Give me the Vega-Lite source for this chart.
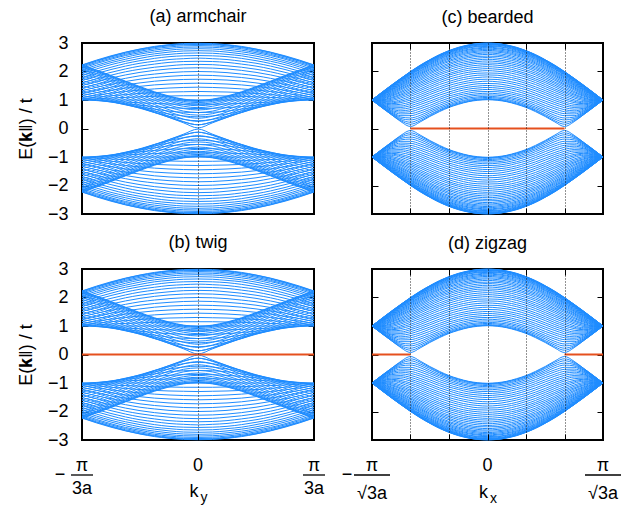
{
"$schema":"https://vega.github.io/schema/vega-lite/v6.json",
"background":"white",
"padding":{"left":16,"top":7,"right":5,"bottom":5},
"bounds":"flush",
"spacing":{"row":55,"column":58},
"columns":2,
"config":{
 "font":"Liberation Sans",
 "view":{"stroke":"black","strokeWidth":2},
 "axis":{"labelFont":"Liberation Sans","titleFont":"Liberation Sans","labelFontSize":18,"titleFontSize":18,"titleFontWeight":"normal","labelColor":"black","titleColor":"black","tickColor":"black","tickWidth":1,"domain":false,"grid":false,"gridColor":"black","gridDash":[1,2],"gridOpacity":0.85,"gridWidth":1,"labelFlush":false,"labelOverlap":false},
 "title":{"font":"Liberation Sans","fontSize":18,"fontWeight":"normal","color":"black","offset":10},
 "text":{"font":"Liberation Sans","fontSize":18,"color":"black"},
 "line":{"interpolate":"monotone","color":"#1e8cff","strokeWidth":1}
},
"datasets":{
"arm":[
{"x":-1,"p1":2.22,"p2":2.16,"p3":2.06,"p4":1.93,"p5":1.77,"p6":1.6,"p7":1.41,"p8":1.24,"p9":1.09,"p10":1.01,"p11":1.01,"p12":1.09,"p13":1.24,"p14":1.41,"p15":1.6,"p16":1.77,"p17":1.93,"p18":2.06,"p19":2.16,"p20":2.22,"q1":2.23,"q2":2.19,"q3":2.11,"q4":2,"q5":1.86,"q6":1.69,"q7":1.51,"q8":1.32,"q9":1.16,"q10":1.04,"q11":1,"q12":1.04,"q13":1.16,"q14":1.32,"q15":1.51,"q16":1.69,"q17":1.86,"q18":2,"q19":2.11,"q20":2.19,"q21":2.23,"n1":-2.22,"n2":-2.16,"n3":-2.06,"n4":-1.93,"n5":-1.77,"n6":-1.6,"n7":-1.41,"n8":-1.24,"n9":-1.09,"n10":-1.01,"n11":-1.01,"n12":-1.09,"n13":-1.24,"n14":-1.41,"n15":-1.6,"n16":-1.77,"n17":-1.93,"n18":-2.06,"n19":-2.16,"n20":-2.22,"r1":-2.23,"r2":-2.19,"r3":-2.11,"r4":-2,"r5":-1.86,"r6":-1.69,"r7":-1.51,"r8":-1.32,"r9":-1.16,"r10":-1.04,"r11":-1,"r12":-1.04,"r13":-1.16,"r14":-1.32,"r15":-1.51,"r16":-1.69,"r17":-1.86,"r18":-2,"r19":-2.11,"r20":-2.19,"r21":-2.23},
{"x":-0.875,"p1":2.38,"p2":2.32,"p3":2.22,"p4":2.09,"p5":1.93,"p6":1.74,"p7":1.55,"p8":1.35,"p9":1.17,"p10":1.04,"p11":0.98,"p12":1.01,"p13":1.12,"p14":1.27,"p15":1.44,"p16":1.61,"p17":1.76,"p18":1.88,"p19":1.98,"p20":2.03,"q1":2.4,"q2":2.36,"q3":2.28,"q4":2.16,"q5":2.01,"q6":1.84,"q7":1.65,"q8":1.45,"q9":1.26,"q10":1.1,"q11":1,"q12":0.99,"q13":1.06,"q14":1.19,"q15":1.35,"q16":1.52,"q17":1.68,"q18":1.82,"q19":1.93,"q20":2.01,"q21":2.05,"n1":-2.38,"n2":-2.32,"n3":-2.22,"n4":-2.09,"n5":-1.93,"n6":-1.74,"n7":-1.55,"n8":-1.35,"n9":-1.17,"n10":-1.04,"n11":-0.98,"n12":-1.01,"n13":-1.12,"n14":-1.27,"n15":-1.44,"n16":-1.61,"n17":-1.76,"n18":-1.88,"n19":-1.98,"n20":-2.03,"r1":-2.4,"r2":-2.36,"r3":-2.28,"r4":-2.16,"r5":-2.01,"r6":-1.84,"r7":-1.65,"r8":-1.45,"r9":-1.26,"r10":-1.1,"r11":-1,"r12":-0.99,"r13":-1.06,"r14":-1.19,"r15":-1.35,"r16":-1.52,"r17":-1.68,"r18":-1.82,"r19":-1.93,"r20":-2.01,"r21":-2.05},
{"x":-0.75,"p1":2.53,"p2":2.47,"p3":2.37,"p4":2.24,"p5":2.07,"p6":1.87,"p7":1.66,"p8":1.45,"p9":1.24,"p10":1.07,"p11":0.95,"p12":0.93,"p13":0.99,"p14":1.11,"p15":1.27,"p16":1.42,"p17":1.57,"p18":1.69,"p19":1.79,"p20":1.84,"q1":2.55,"q2":2.51,"q3":2.43,"q4":2.31,"q5":2.15,"q6":1.97,"q7":1.77,"q8":1.55,"q9":1.34,"q10":1.15,"q11":1,"q12":0.93,"q13":0.95,"q14":1.04,"q15":1.19,"q16":1.35,"q17":1.5,"q18":1.64,"q19":1.74,"q20":1.82,"q21":1.86,"n1":-2.53,"n2":-2.47,"n3":-2.37,"n4":-2.24,"n5":-2.07,"n6":-1.87,"n7":-1.66,"n8":-1.45,"n9":-1.24,"n10":-1.07,"n11":-0.95,"n12":-0.93,"n13":-0.99,"n14":-1.11,"n15":-1.27,"n16":-1.42,"n17":-1.57,"n18":-1.69,"n19":-1.79,"n20":-1.84,"r1":-2.55,"r2":-2.51,"r3":-2.43,"r4":-2.31,"r5":-2.15,"r6":-1.97,"r7":-1.77,"r8":-1.55,"r9":-1.34,"r10":-1.15,"r11":-1,"r12":-0.93,"r13":-0.95,"r14":-1.04,"r15":-1.19,"r16":-1.35,"r17":-1.5,"r18":-1.64,"r19":-1.74,"r20":-1.82,"r21":-1.86},
{"x":-0.625,"p1":2.67,"p2":2.6,"p3":2.5,"p4":2.36,"p5":2.19,"p6":1.99,"p7":1.76,"p8":1.53,"p9":1.3,"p10":1.09,"p11":0.93,"p12":0.84,"p13":0.85,"p14":0.94,"p15":1.08,"p16":1.23,"p17":1.38,"p18":1.5,"p19":1.59,"p20":1.65,"q1":2.68,"q2":2.64,"q3":2.56,"q4":2.43,"q5":2.28,"q6":2.09,"q7":1.88,"q8":1.65,"q9":1.42,"q10":1.19,"q11":1,"q12":0.87,"q13":0.83,"q14":0.89,"q15":1.01,"q16":1.16,"q17":1.31,"q18":1.44,"q19":1.55,"q20":1.62,"q21":1.66,"n1":-2.67,"n2":-2.6,"n3":-2.5,"n4":-2.36,"n5":-2.19,"n6":-1.99,"n7":-1.76,"n8":-1.53,"n9":-1.3,"n10":-1.09,"n11":-0.93,"n12":-0.84,"n13":-0.85,"n14":-0.94,"n15":-1.08,"n16":-1.23,"n17":-1.38,"n18":-1.5,"n19":-1.59,"n20":-1.65,"r1":-2.68,"r2":-2.64,"r3":-2.56,"r4":-2.43,"r5":-2.28,"r6":-2.09,"r7":-1.88,"r8":-1.65,"r9":-1.42,"r10":-1.19,"r11":-1,"r12":-0.87,"r13":-0.83,"r14":-0.89,"r15":-1.01,"r16":-1.16,"r17":-1.31,"r18":-1.44,"r19":-1.55,"r20":-1.62,"r21":-1.66},
{"x":-0.5,"p1":2.78,"p2":2.71,"p3":2.61,"p4":2.46,"p5":2.29,"p6":2.08,"p7":1.85,"p8":1.6,"p9":1.35,"p10":1.11,"p11":0.9,"p12":0.75,"p13":0.71,"p14":0.77,"p15":0.89,"p16":1.04,"p17":1.18,"p18":1.3,"p19":1.4,"p20":1.45,"q1":2.79,"q2":2.75,"q3":2.66,"q4":2.54,"q5":2.38,"q6":2.19,"q7":1.97,"q8":1.73,"q9":1.48,"q10":1.23,"q11":1,"q12":0.82,"q13":0.72,"q14":0.73,"q15":0.82,"q16":0.96,"q17":1.11,"q18":1.25,"q19":1.35,"q20":1.43,"q21":1.47,"n1":-2.78,"n2":-2.71,"n3":-2.61,"n4":-2.46,"n5":-2.29,"n6":-2.08,"n7":-1.85,"n8":-1.6,"n9":-1.35,"n10":-1.11,"n11":-0.9,"n12":-0.75,"n13":-0.71,"n14":-0.77,"n15":-0.89,"n16":-1.04,"n17":-1.18,"n18":-1.3,"n19":-1.4,"n20":-1.45,"r1":-2.79,"r2":-2.75,"r3":-2.66,"r4":-2.54,"r5":-2.38,"r6":-2.19,"r7":-1.97,"r8":-1.73,"r9":-1.48,"r10":-1.23,"r11":-1,"r12":-0.82,"r13":-0.72,"r14":-0.73,"r15":-0.82,"r16":-0.96,"r17":-1.11,"r18":-1.25,"r19":-1.35,"r20":-1.43,"r21":-1.47},
{"x":-0.375,"p1":2.86,"p2":2.8,"p3":2.69,"p4":2.55,"p5":2.36,"p6":2.15,"p7":1.91,"p8":1.66,"p9":1.39,"p10":1.13,"p11":0.88,"p12":0.68,"p13":0.56,"p14":0.58,"p15":0.69,"p16":0.84,"p17":0.99,"p18":1.12,"p19":1.21,"p20":1.27,"q1":2.88,"q2":2.84,"q3":2.75,"q4":2.62,"q5":2.46,"q6":2.26,"q7":2.04,"q8":1.79,"q9":1.53,"q10":1.26,"q11":1,"q12":0.77,"q13":0.61,"q14":0.56,"q15":0.63,"q16":0.77,"q17":0.92,"q18":1.06,"q19":1.17,"q20":1.25,"q21":1.29,"n1":-2.86,"n2":-2.8,"n3":-2.69,"n4":-2.55,"n5":-2.36,"n6":-2.15,"n7":-1.91,"n8":-1.66,"n9":-1.39,"n10":-1.13,"n11":-0.88,"n12":-0.68,"n13":-0.56,"n14":-0.58,"n15":-0.69,"n16":-0.84,"n17":-0.99,"n18":-1.12,"n19":-1.21,"n20":-1.27,"r1":-2.88,"r2":-2.84,"r3":-2.75,"r4":-2.62,"r5":-2.46,"r6":-2.26,"r7":-2.04,"r8":-1.79,"r9":-1.53,"r10":-1.26,"r11":-1,"r12":-0.77,"r13":-0.61,"r14":-0.56,"r15":-0.63,"r16":-0.77,"r17":-0.92,"r18":-1.06,"r19":-1.17,"r20":-1.25,"r21":-1.29},
{"x":-0.25,"p1":2.93,"p2":2.86,"p3":2.75,"p4":2.6,"p5":2.42,"p6":2.2,"p7":1.96,"p8":1.7,"p9":1.42,"p10":1.14,"p11":0.86,"p12":0.61,"p13":0.43,"p14":0.39,"p15":0.5,"p16":0.66,"p17":0.82,"p18":0.96,"p19":1.06,"p20":1.12,"q1":2.94,"q2":2.9,"q3":2.81,"q4":2.68,"q5":2.52,"q6":2.32,"q7":2.09,"q8":1.83,"q9":1.56,"q10":1.28,"q11":1,"q12":0.73,"q13":0.51,"q14":0.39,"q15":0.43,"q16":0.58,"q17":0.75,"q18":0.89,"q19":1.01,"q20":1.1,"q21":1.14,"n1":-2.93,"n2":-2.86,"n3":-2.75,"n4":-2.6,"n5":-2.42,"n6":-2.2,"n7":-1.96,"n8":-1.7,"n9":-1.42,"n10":-1.14,"n11":-0.86,"n12":-0.61,"n13":-0.43,"n14":-0.39,"n15":-0.5,"n16":-0.66,"n17":-0.82,"n18":-0.96,"n19":-1.06,"n20":-1.12,"r1":-2.94,"r2":-2.9,"r3":-2.81,"r4":-2.68,"r5":-2.52,"r6":-2.32,"r7":-2.09,"r8":-1.83,"r9":-1.56,"r10":-1.28,"r11":-1,"r12":-0.73,"r13":-0.51,"r14":-0.39,"r15":-0.43,"r16":-0.58,"r17":-0.75,"r18":-0.89,"r19":-1.01,"r20":-1.1,"r21":-1.14},
{"x":-0.125,"p1":2.96,"p2":2.9,"p3":2.79,"p4":2.64,"p5":2.45,"p6":2.24,"p7":1.99,"p8":1.72,"p9":1.44,"p10":1.15,"p11":0.85,"p12":0.57,"p13":0.32,"p14":0.2,"p15":0.33,"p16":0.52,"p17":0.7,"p18":0.84,"p19":0.95,"p20":1.02,"q1":2.98,"q2":2.94,"q3":2.85,"q4":2.72,"q5":2.55,"q6":2.35,"q7":2.12,"q8":1.86,"q9":1.58,"q10":1.29,"q11":1,"q12":0.71,"q13":0.44,"q14":0.23,"q15":0.24,"q16":0.43,"q17":0.61,"q18":0.78,"q19":0.9,"q20":0.99,"q21":1.03,"n1":-2.96,"n2":-2.9,"n3":-2.79,"n4":-2.64,"n5":-2.45,"n6":-2.24,"n7":-1.99,"n8":-1.72,"n9":-1.44,"n10":-1.15,"n11":-0.85,"n12":-0.57,"n13":-0.32,"n14":-0.2,"n15":-0.33,"n16":-0.52,"n17":-0.7,"n18":-0.84,"n19":-0.95,"n20":-1.02,"r1":-2.98,"r2":-2.94,"r3":-2.85,"r4":-2.72,"r5":-2.55,"r6":-2.35,"r7":-2.12,"r8":-1.86,"r9":-1.58,"r10":-1.29,"r11":-1,"r12":-0.71,"r13":-0.44,"r14":-0.23,"r15":-0.24,"r16":-0.43,"r17":-0.61,"r18":-0.78,"r19":-0.9,"r20":-0.99,"r21":-1.03},
{"x":0,"p1":2.98,"p2":2.91,"p3":2.8,"p4":2.65,"p5":2.47,"p6":2.25,"p7":2,"p8":1.73,"p9":1.45,"p10":1.15,"p11":0.85,"p12":0.56,"p13":0.27,"p14":0.02,"p15":0.25,"p16":0.47,"p17":0.65,"p18":0.8,"p19":0.91,"p20":0.98,"q1":2.99,"q2":2.95,"q3":2.86,"q4":2.73,"q5":2.56,"q6":2.36,"q7":2.13,"q8":1.87,"q9":1.59,"q10":1.3,"q11":1,"q12":0.7,"q13":0.41,"q14":0.13,"q15":0.13,"q16":0.36,"q17":0.56,"q18":0.73,"q19":0.86,"q20":0.95,"q21":0.99,"n1":-2.98,"n2":-2.91,"n3":-2.8,"n4":-2.65,"n5":-2.47,"n6":-2.25,"n7":-2,"n8":-1.73,"n9":-1.45,"n10":-1.15,"n11":-0.85,"n12":-0.56,"n13":-0.27,"n14":-0.02,"n15":-0.25,"n16":-0.47,"n17":-0.65,"n18":-0.8,"n19":-0.91,"n20":-0.98,"r1":-2.99,"r2":-2.95,"r3":-2.86,"r4":-2.73,"r5":-2.56,"r6":-2.36,"r7":-2.13,"r8":-1.87,"r9":-1.59,"r10":-1.3,"r11":-1,"r12":-0.7,"r13":-0.41,"r14":-0.13,"r15":-0.13,"r16":-0.36,"r17":-0.56,"r18":-0.73,"r19":-0.86,"r20":-0.95,"r21":-0.99},
{"x":0.125,"p1":2.96,"p2":2.9,"p3":2.79,"p4":2.64,"p5":2.45,"p6":2.24,"p7":1.99,"p8":1.72,"p9":1.44,"p10":1.15,"p11":0.85,"p12":0.57,"p13":0.32,"p14":0.2,"p15":0.33,"p16":0.52,"p17":0.7,"p18":0.84,"p19":0.95,"p20":1.02,"q1":2.98,"q2":2.94,"q3":2.85,"q4":2.72,"q5":2.55,"q6":2.35,"q7":2.12,"q8":1.86,"q9":1.58,"q10":1.29,"q11":1,"q12":0.71,"q13":0.44,"q14":0.23,"q15":0.24,"q16":0.43,"q17":0.61,"q18":0.78,"q19":0.9,"q20":0.99,"q21":1.03,"n1":-2.96,"n2":-2.9,"n3":-2.79,"n4":-2.64,"n5":-2.45,"n6":-2.24,"n7":-1.99,"n8":-1.72,"n9":-1.44,"n10":-1.15,"n11":-0.85,"n12":-0.57,"n13":-0.32,"n14":-0.2,"n15":-0.33,"n16":-0.52,"n17":-0.7,"n18":-0.84,"n19":-0.95,"n20":-1.02,"r1":-2.98,"r2":-2.94,"r3":-2.85,"r4":-2.72,"r5":-2.55,"r6":-2.35,"r7":-2.12,"r8":-1.86,"r9":-1.58,"r10":-1.29,"r11":-1,"r12":-0.71,"r13":-0.44,"r14":-0.23,"r15":-0.24,"r16":-0.43,"r17":-0.61,"r18":-0.78,"r19":-0.9,"r20":-0.99,"r21":-1.03},
{"x":0.25,"p1":2.93,"p2":2.86,"p3":2.75,"p4":2.6,"p5":2.42,"p6":2.2,"p7":1.96,"p8":1.7,"p9":1.42,"p10":1.14,"p11":0.86,"p12":0.61,"p13":0.43,"p14":0.39,"p15":0.5,"p16":0.66,"p17":0.82,"p18":0.96,"p19":1.06,"p20":1.12,"q1":2.94,"q2":2.9,"q3":2.81,"q4":2.68,"q5":2.52,"q6":2.32,"q7":2.09,"q8":1.83,"q9":1.56,"q10":1.28,"q11":1,"q12":0.73,"q13":0.51,"q14":0.39,"q15":0.43,"q16":0.58,"q17":0.75,"q18":0.89,"q19":1.01,"q20":1.1,"q21":1.14,"n1":-2.93,"n2":-2.86,"n3":-2.75,"n4":-2.6,"n5":-2.42,"n6":-2.2,"n7":-1.96,"n8":-1.7,"n9":-1.42,"n10":-1.14,"n11":-0.86,"n12":-0.61,"n13":-0.43,"n14":-0.39,"n15":-0.5,"n16":-0.66,"n17":-0.82,"n18":-0.96,"n19":-1.06,"n20":-1.12,"r1":-2.94,"r2":-2.9,"r3":-2.81,"r4":-2.68,"r5":-2.52,"r6":-2.32,"r7":-2.09,"r8":-1.83,"r9":-1.56,"r10":-1.28,"r11":-1,"r12":-0.73,"r13":-0.51,"r14":-0.39,"r15":-0.43,"r16":-0.58,"r17":-0.75,"r18":-0.89,"r19":-1.01,"r20":-1.1,"r21":-1.14},
{"x":0.375,"p1":2.86,"p2":2.8,"p3":2.69,"p4":2.55,"p5":2.36,"p6":2.15,"p7":1.91,"p8":1.66,"p9":1.39,"p10":1.13,"p11":0.88,"p12":0.68,"p13":0.56,"p14":0.58,"p15":0.69,"p16":0.84,"p17":0.99,"p18":1.12,"p19":1.21,"p20":1.27,"q1":2.88,"q2":2.84,"q3":2.75,"q4":2.62,"q5":2.46,"q6":2.26,"q7":2.04,"q8":1.79,"q9":1.53,"q10":1.26,"q11":1,"q12":0.77,"q13":0.61,"q14":0.56,"q15":0.63,"q16":0.77,"q17":0.92,"q18":1.06,"q19":1.17,"q20":1.25,"q21":1.29,"n1":-2.86,"n2":-2.8,"n3":-2.69,"n4":-2.55,"n5":-2.36,"n6":-2.15,"n7":-1.91,"n8":-1.66,"n9":-1.39,"n10":-1.13,"n11":-0.88,"n12":-0.68,"n13":-0.56,"n14":-0.58,"n15":-0.69,"n16":-0.84,"n17":-0.99,"n18":-1.12,"n19":-1.21,"n20":-1.27,"r1":-2.88,"r2":-2.84,"r3":-2.75,"r4":-2.62,"r5":-2.46,"r6":-2.26,"r7":-2.04,"r8":-1.79,"r9":-1.53,"r10":-1.26,"r11":-1,"r12":-0.77,"r13":-0.61,"r14":-0.56,"r15":-0.63,"r16":-0.77,"r17":-0.92,"r18":-1.06,"r19":-1.17,"r20":-1.25,"r21":-1.29},
{"x":0.5,"p1":2.78,"p2":2.71,"p3":2.61,"p4":2.46,"p5":2.29,"p6":2.08,"p7":1.85,"p8":1.6,"p9":1.35,"p10":1.11,"p11":0.9,"p12":0.75,"p13":0.71,"p14":0.77,"p15":0.89,"p16":1.04,"p17":1.18,"p18":1.3,"p19":1.4,"p20":1.45,"q1":2.79,"q2":2.75,"q3":2.66,"q4":2.54,"q5":2.38,"q6":2.19,"q7":1.97,"q8":1.73,"q9":1.48,"q10":1.23,"q11":1,"q12":0.82,"q13":0.72,"q14":0.73,"q15":0.82,"q16":0.96,"q17":1.11,"q18":1.25,"q19":1.35,"q20":1.43,"q21":1.47,"n1":-2.78,"n2":-2.71,"n3":-2.61,"n4":-2.46,"n5":-2.29,"n6":-2.08,"n7":-1.85,"n8":-1.6,"n9":-1.35,"n10":-1.11,"n11":-0.9,"n12":-0.75,"n13":-0.71,"n14":-0.77,"n15":-0.89,"n16":-1.04,"n17":-1.18,"n18":-1.3,"n19":-1.4,"n20":-1.45,"r1":-2.79,"r2":-2.75,"r3":-2.66,"r4":-2.54,"r5":-2.38,"r6":-2.19,"r7":-1.97,"r8":-1.73,"r9":-1.48,"r10":-1.23,"r11":-1,"r12":-0.82,"r13":-0.72,"r14":-0.73,"r15":-0.82,"r16":-0.96,"r17":-1.11,"r18":-1.25,"r19":-1.35,"r20":-1.43,"r21":-1.47},
{"x":0.625,"p1":2.67,"p2":2.6,"p3":2.5,"p4":2.36,"p5":2.19,"p6":1.99,"p7":1.76,"p8":1.53,"p9":1.3,"p10":1.09,"p11":0.93,"p12":0.84,"p13":0.85,"p14":0.94,"p15":1.08,"p16":1.23,"p17":1.38,"p18":1.5,"p19":1.59,"p20":1.65,"q1":2.68,"q2":2.64,"q3":2.56,"q4":2.43,"q5":2.28,"q6":2.09,"q7":1.88,"q8":1.65,"q9":1.42,"q10":1.19,"q11":1,"q12":0.87,"q13":0.83,"q14":0.89,"q15":1.01,"q16":1.16,"q17":1.31,"q18":1.44,"q19":1.55,"q20":1.62,"q21":1.66,"n1":-2.67,"n2":-2.6,"n3":-2.5,"n4":-2.36,"n5":-2.19,"n6":-1.99,"n7":-1.76,"n8":-1.53,"n9":-1.3,"n10":-1.09,"n11":-0.93,"n12":-0.84,"n13":-0.85,"n14":-0.94,"n15":-1.08,"n16":-1.23,"n17":-1.38,"n18":-1.5,"n19":-1.59,"n20":-1.65,"r1":-2.68,"r2":-2.64,"r3":-2.56,"r4":-2.43,"r5":-2.28,"r6":-2.09,"r7":-1.88,"r8":-1.65,"r9":-1.42,"r10":-1.19,"r11":-1,"r12":-0.87,"r13":-0.83,"r14":-0.89,"r15":-1.01,"r16":-1.16,"r17":-1.31,"r18":-1.44,"r19":-1.55,"r20":-1.62,"r21":-1.66},
{"x":0.75,"p1":2.53,"p2":2.47,"p3":2.37,"p4":2.24,"p5":2.07,"p6":1.87,"p7":1.66,"p8":1.45,"p9":1.24,"p10":1.07,"p11":0.95,"p12":0.93,"p13":0.99,"p14":1.11,"p15":1.27,"p16":1.42,"p17":1.57,"p18":1.69,"p19":1.79,"p20":1.84,"q1":2.55,"q2":2.51,"q3":2.43,"q4":2.31,"q5":2.15,"q6":1.97,"q7":1.77,"q8":1.55,"q9":1.34,"q10":1.15,"q11":1,"q12":0.93,"q13":0.95,"q14":1.04,"q15":1.19,"q16":1.35,"q17":1.5,"q18":1.64,"q19":1.74,"q20":1.82,"q21":1.86,"n1":-2.53,"n2":-2.47,"n3":-2.37,"n4":-2.24,"n5":-2.07,"n6":-1.87,"n7":-1.66,"n8":-1.45,"n9":-1.24,"n10":-1.07,"n11":-0.95,"n12":-0.93,"n13":-0.99,"n14":-1.11,"n15":-1.27,"n16":-1.42,"n17":-1.57,"n18":-1.69,"n19":-1.79,"n20":-1.84,"r1":-2.55,"r2":-2.51,"r3":-2.43,"r4":-2.31,"r5":-2.15,"r6":-1.97,"r7":-1.77,"r8":-1.55,"r9":-1.34,"r10":-1.15,"r11":-1,"r12":-0.93,"r13":-0.95,"r14":-1.04,"r15":-1.19,"r16":-1.35,"r17":-1.5,"r18":-1.64,"r19":-1.74,"r20":-1.82,"r21":-1.86},
{"x":0.875,"p1":2.38,"p2":2.32,"p3":2.22,"p4":2.09,"p5":1.93,"p6":1.74,"p7":1.55,"p8":1.35,"p9":1.17,"p10":1.04,"p11":0.98,"p12":1.01,"p13":1.12,"p14":1.27,"p15":1.44,"p16":1.61,"p17":1.76,"p18":1.88,"p19":1.98,"p20":2.03,"q1":2.4,"q2":2.36,"q3":2.28,"q4":2.16,"q5":2.01,"q6":1.84,"q7":1.65,"q8":1.45,"q9":1.26,"q10":1.1,"q11":1,"q12":0.99,"q13":1.06,"q14":1.19,"q15":1.35,"q16":1.52,"q17":1.68,"q18":1.82,"q19":1.93,"q20":2.01,"q21":2.05,"n1":-2.38,"n2":-2.32,"n3":-2.22,"n4":-2.09,"n5":-1.93,"n6":-1.74,"n7":-1.55,"n8":-1.35,"n9":-1.17,"n10":-1.04,"n11":-0.98,"n12":-1.01,"n13":-1.12,"n14":-1.27,"n15":-1.44,"n16":-1.61,"n17":-1.76,"n18":-1.88,"n19":-1.98,"n20":-2.03,"r1":-2.4,"r2":-2.36,"r3":-2.28,"r4":-2.16,"r5":-2.01,"r6":-1.84,"r7":-1.65,"r8":-1.45,"r9":-1.26,"r10":-1.1,"r11":-1,"r12":-0.99,"r13":-1.06,"r14":-1.19,"r15":-1.35,"r16":-1.52,"r17":-1.68,"r18":-1.82,"r19":-1.93,"r20":-2.01,"r21":-2.05},
{"x":1,"p1":2.22,"p2":2.16,"p3":2.06,"p4":1.93,"p5":1.77,"p6":1.6,"p7":1.41,"p8":1.24,"p9":1.09,"p10":1.01,"p11":1.01,"p12":1.09,"p13":1.24,"p14":1.41,"p15":1.6,"p16":1.77,"p17":1.93,"p18":2.06,"p19":2.16,"p20":2.22,"q1":2.23,"q2":2.19,"q3":2.11,"q4":2,"q5":1.86,"q6":1.69,"q7":1.51,"q8":1.32,"q9":1.16,"q10":1.04,"q11":1,"q12":1.04,"q13":1.16,"q14":1.32,"q15":1.51,"q16":1.69,"q17":1.86,"q18":2,"q19":2.11,"q20":2.19,"q21":2.23,"n1":-2.22,"n2":-2.16,"n3":-2.06,"n4":-1.93,"n5":-1.77,"n6":-1.6,"n7":-1.41,"n8":-1.24,"n9":-1.09,"n10":-1.01,"n11":-1.01,"n12":-1.09,"n13":-1.24,"n14":-1.41,"n15":-1.6,"n16":-1.77,"n17":-1.93,"n18":-2.06,"n19":-2.16,"n20":-2.22,"r1":-2.23,"r2":-2.19,"r3":-2.11,"r4":-2,"r5":-1.86,"r6":-1.69,"r7":-1.51,"r8":-1.32,"r9":-1.16,"r10":-1.04,"r11":-1,"r12":-1.04,"r13":-1.16,"r14":-1.32,"r15":-1.51,"r16":-1.69,"r17":-1.86,"r18":-2,"r19":-2.11,"r20":-2.19,"r21":-2.23}
],
"zz":[
{"x":-1,"p1":1,"p2":1,"p3":1,"p4":1,"p5":1,"p6":1,"p7":1,"p8":1,"p9":1,"p10":1,"p11":1,"p12":1,"p13":1,"p14":1,"p15":1,"p16":1,"p17":1,"p18":1,"p19":1,"p20":1,"q1":1,"q2":1,"q3":1,"q4":1,"q5":1,"q6":1,"q7":1,"q8":1,"q9":1,"q10":1,"q11":1,"q12":1,"q13":1,"q14":1,"q15":1,"q16":1,"q17":1,"q18":1,"q19":1,"q20":1,"q21":1,"n1":-1,"n2":-1,"n3":-1,"n4":-1,"n5":-1,"n6":-1,"n7":-1,"n8":-1,"n9":-1,"n10":-1,"n11":-1,"n12":-1,"n13":-1,"n14":-1,"n15":-1,"n16":-1,"n17":-1,"n18":-1,"n19":-1,"n20":-1,"r1":-1,"r2":-1,"r3":-1,"r4":-1,"r5":-1,"r6":-1,"r7":-1,"r8":-1,"r9":-1,"r10":-1,"r11":-1,"r12":-1,"r13":-1,"r14":-1,"r15":-1,"r16":-1,"r17":-1,"r18":-1,"r19":-1,"r20":-1,"r21":-1},
{"x":-0.9167,"p1":1.26,"p2":1.25,"p3":1.24,"p4":1.22,"p5":1.2,"p6":1.18,"p7":1.15,"p8":1.12,"p9":1.09,"p10":1.05,"p11":1.01,"p12":0.98,"p13":0.94,"p14":0.9,"p15":0.86,"p16":0.83,"p17":0.8,"p18":0.77,"p19":0.75,"p20":0.74,"q1":1.26,"q2":1.26,"q3":1.25,"q4":1.23,"q5":1.22,"q6":1.19,"q7":1.17,"q8":1.14,"q9":1.11,"q10":1.07,"q11":1.03,"q12":1,"q13":0.96,"q14":0.92,"q15":0.88,"q16":0.84,"q17":0.81,"q18":0.78,"q19":0.76,"q20":0.75,"q21":0.74,"n1":-1.26,"n2":-1.25,"n3":-1.24,"n4":-1.22,"n5":-1.2,"n6":-1.18,"n7":-1.15,"n8":-1.12,"n9":-1.09,"n10":-1.05,"n11":-1.01,"n12":-0.98,"n13":-0.94,"n14":-0.9,"n15":-0.86,"n16":-0.83,"n17":-0.8,"n18":-0.77,"n19":-0.75,"n20":-0.74,"r1":-1.26,"r2":-1.26,"r3":-1.25,"r4":-1.23,"r5":-1.22,"r6":-1.19,"r7":-1.17,"r8":-1.14,"r9":-1.11,"r10":-1.07,"r11":-1.03,"r12":-1,"r13":-0.96,"r14":-0.92,"r15":-0.88,"r16":-0.84,"r17":-0.81,"r18":-0.78,"r19":-0.76,"r20":-0.75,"r21":-0.74},
{"x":-0.8333,"p1":1.51,"p2":1.5,"p3":1.48,"p4":1.46,"p5":1.42,"p6":1.38,"p7":1.34,"p8":1.28,"p9":1.22,"p10":1.16,"p11":1.09,"p12":1.02,"p13":0.94,"p14":0.87,"p15":0.79,"p16":0.71,"p17":0.64,"p18":0.58,"p19":0.53,"p20":0.49,"q1":1.52,"q2":1.51,"q3":1.49,"q4":1.47,"q5":1.44,"q6":1.4,"q7":1.36,"q8":1.31,"q9":1.25,"q10":1.19,"q11":1.13,"q12":1.06,"q13":0.98,"q14":0.9,"q15":0.83,"q16":0.75,"q17":0.68,"q18":0.61,"q19":0.55,"q20":0.51,"q21":0.49,"n1":-1.51,"n2":-1.5,"n3":-1.48,"n4":-1.46,"n5":-1.42,"n6":-1.38,"n7":-1.34,"n8":-1.28,"n9":-1.22,"n10":-1.16,"n11":-1.09,"n12":-1.02,"n13":-0.94,"n14":-0.87,"n15":-0.79,"n16":-0.71,"n17":-0.64,"n18":-0.58,"n19":-0.53,"n20":-0.49,"r1":-1.52,"r2":-1.51,"r3":-1.49,"r4":-1.47,"r5":-1.44,"r6":-1.4,"r7":-1.36,"r8":-1.31,"r9":-1.25,"r10":-1.19,"r11":-1.13,"r12":-1.06,"r13":-0.98,"r14":-0.9,"r15":-0.83,"r16":-0.75,"r17":-0.68,"r18":-0.61,"r19":-0.55,"r20":-0.51,"r21":-0.49},
{"x":-0.75,"p1":1.76,"p2":1.75,"p3":1.72,"p4":1.69,"p5":1.65,"p6":1.59,"p7":1.53,"p8":1.46,"p9":1.39,"p10":1.3,"p11":1.21,"p12":1.12,"p13":1.01,"p14":0.91,"p15":0.79,"p16":0.68,"p17":0.57,"p18":0.45,"p19":0.35,"p20":0.27,"q1":1.76,"q2":1.75,"q3":1.74,"q4":1.71,"q5":1.67,"q6":1.62,"q7":1.56,"q8":1.5,"q9":1.43,"q10":1.35,"q11":1.26,"q12":1.17,"q13":1.07,"q14":0.96,"q15":0.85,"q16":0.74,"q17":0.62,"q18":0.51,"q19":0.4,"q20":0.31,"q21":0.24,"n1":-1.76,"n2":-1.75,"n3":-1.72,"n4":-1.69,"n5":-1.65,"n6":-1.59,"n7":-1.53,"n8":-1.46,"n9":-1.39,"n10":-1.3,"n11":-1.21,"n12":-1.12,"n13":-1.01,"n14":-0.91,"n15":-0.79,"n16":-0.68,"n17":-0.57,"n18":-0.45,"n19":-0.35,"n20":-0.27,"r1":-1.76,"r2":-1.75,"r3":-1.74,"r4":-1.71,"r5":-1.67,"r6":-1.62,"r7":-1.56,"r8":-1.5,"r9":-1.43,"r10":-1.35,"r11":-1.26,"r12":-1.17,"r13":-1.07,"r14":-0.96,"r15":-0.85,"r16":-0.74,"r17":-0.62,"r18":-0.51,"r19":-0.4,"r20":-0.31,"r21":-0.24},
{"x":-0.6667,"p1":1.99,"p2":1.98,"p3":1.95,"p4":1.91,"p5":1.86,"p6":1.8,"p7":1.73,"p8":1.65,"p9":1.56,"p10":1.47,"p11":1.36,"p12":1.25,"p13":1.13,"p14":1,"p15":0.87,"p16":0.73,"p17":0.59,"p18":0.45,"p19":0.3,"p20":0.15,"q1":2,"q2":1.99,"q3":1.97,"q4":1.93,"q5":1.89,"q6":1.83,"q7":1.77,"q8":1.69,"q9":1.61,"q10":1.52,"q11":1.41,"q12":1.3,"q13":1.19,"q14":1.06,"q15":0.93,"q16":0.8,"q17":0.66,"q18":0.52,"q19":0.37,"q20":0.22,"q21":0.07,"n1":-1.99,"n2":-1.98,"n3":-1.95,"n4":-1.91,"n5":-1.86,"n6":-1.8,"n7":-1.73,"n8":-1.65,"n9":-1.56,"n10":-1.47,"n11":-1.36,"n12":-1.25,"n13":-1.13,"n14":-1,"n15":-0.87,"n16":-0.73,"n17":-0.59,"n18":-0.45,"n19":-0.3,"n20":-0.15,"r1":-2,"r2":-1.99,"r3":-1.97,"r4":-1.93,"r5":-1.89,"r6":-1.83,"r7":-1.77,"r8":-1.69,"r9":-1.61,"r10":-1.52,"r11":-1.41,"r12":-1.3,"r13":-1.19,"r14":-1.06,"r15":-0.93,"r16":-0.8,"r17":-0.66,"r18":-0.52,"r19":-0.37,"r20":-0.22,"r21":-0.07},
{"x":-0.5833,"p1":2.21,"p2":2.19,"p3":2.16,"p4":2.12,"p5":2.07,"p6":2,"p7":1.92,"p8":1.84,"p9":1.74,"p10":1.63,"p11":1.52,"p12":1.39,"p13":1.26,"p14":1.12,"p15":0.98,"p16":0.84,"p17":0.69,"p18":0.54,"p19":0.39,"p20":0.27,"q1":2.22,"q2":2.2,"q3":2.18,"q4":2.14,"q5":2.09,"q6":2.03,"q7":1.96,"q8":1.88,"q9":1.79,"q10":1.69,"q11":1.58,"q12":1.46,"q13":1.33,"q14":1.19,"q15":1.05,"q16":0.91,"q17":0.76,"q18":0.61,"q19":0.46,"q20":0.33,"q21":0.23,"n1":-2.21,"n2":-2.19,"n3":-2.16,"n4":-2.12,"n5":-2.07,"n6":-2,"n7":-1.92,"n8":-1.84,"n9":-1.74,"n10":-1.63,"n11":-1.52,"n12":-1.39,"n13":-1.26,"n14":-1.12,"n15":-0.98,"n16":-0.84,"n17":-0.69,"n18":-0.54,"n19":-0.39,"n20":-0.27,"r1":-2.22,"r2":-2.2,"r3":-2.18,"r4":-2.14,"r5":-2.09,"r6":-2.03,"r7":-1.96,"r8":-1.88,"r9":-1.79,"r10":-1.69,"r11":-1.58,"r12":-1.46,"r13":-1.33,"r14":-1.19,"r15":-1.05,"r16":-0.91,"r17":-0.76,"r18":-0.61,"r19":-0.46,"r20":-0.33,"r21":-0.23},
{"x":-0.5,"p1":2.41,"p2":2.39,"p3":2.36,"p4":2.31,"p5":2.25,"p6":2.18,"p7":2.1,"p8":2.01,"p9":1.91,"p10":1.79,"p11":1.67,"p12":1.54,"p13":1.4,"p14":1.26,"p15":1.11,"p16":0.96,"p17":0.81,"p18":0.67,"p19":0.55,"p20":0.45,"q1":2.41,"q2":2.4,"q3":2.37,"q4":2.33,"q5":2.28,"q6":2.22,"q7":2.14,"q8":2.06,"q9":1.96,"q10":1.85,"q11":1.73,"q12":1.61,"q13":1.47,"q14":1.33,"q15":1.19,"q16":1.04,"q17":0.89,"q18":0.74,"q19":0.61,"q20":0.49,"q21":0.42,"n1":-2.41,"n2":-2.39,"n3":-2.36,"n4":-2.31,"n5":-2.25,"n6":-2.18,"n7":-2.1,"n8":-2.01,"n9":-1.91,"n10":-1.79,"n11":-1.67,"n12":-1.54,"n13":-1.4,"n14":-1.26,"n15":-1.11,"n16":-0.96,"n17":-0.81,"n18":-0.67,"n19":-0.55,"n20":-0.45,"r1":-2.41,"r2":-2.4,"r3":-2.37,"r4":-2.33,"r5":-2.28,"r6":-2.22,"r7":-2.14,"r8":-2.06,"r9":-1.96,"r10":-1.85,"r11":-1.73,"r12":-1.61,"r13":-1.47,"r14":-1.33,"r15":-1.19,"r16":-1.04,"r17":-0.89,"r18":-0.74,"r19":-0.61,"r20":-0.49,"r21":-0.42},
{"x":-0.4167,"p1":2.58,"p2":2.56,"p3":2.53,"p4":2.48,"p5":2.42,"p6":2.34,"p7":2.26,"p8":2.16,"p9":2.06,"p10":1.94,"p11":1.81,"p12":1.68,"p13":1.54,"p14":1.39,"p15":1.24,"p16":1.09,"p17":0.95,"p18":0.81,"p19":0.7,"p20":0.62,"q1":2.59,"q2":2.57,"q3":2.54,"q4":2.5,"q5":2.45,"q6":2.38,"q7":2.3,"q8":2.21,"q9":2.11,"q10":2,"q11":1.88,"q12":1.74,"q13":1.61,"q14":1.46,"q15":1.32,"q16":1.17,"q17":1.02,"q18":0.88,"q19":0.75,"q20":0.65,"q21":0.59,"n1":-2.58,"n2":-2.56,"n3":-2.53,"n4":-2.48,"n5":-2.42,"n6":-2.34,"n7":-2.26,"n8":-2.16,"n9":-2.06,"n10":-1.94,"n11":-1.81,"n12":-1.68,"n13":-1.54,"n14":-1.39,"n15":-1.24,"n16":-1.09,"n17":-0.95,"n18":-0.81,"n19":-0.7,"n20":-0.62,"r1":-2.59,"r2":-2.57,"r3":-2.54,"r4":-2.5,"r5":-2.45,"r6":-2.38,"r7":-2.3,"r8":-2.21,"r9":-2.11,"r10":-2,"r11":-1.88,"r12":-1.74,"r13":-1.61,"r14":-1.46,"r15":-1.32,"r16":-1.17,"r17":-1.02,"r18":-0.88,"r19":-0.75,"r20":-0.65,"r21":-0.59},
{"x":-0.3333,"p1":2.73,"p2":2.7,"p3":2.67,"p4":2.62,"p5":2.56,"p6":2.48,"p7":2.39,"p8":2.29,"p9":2.18,"p10":2.06,"p11":1.93,"p12":1.8,"p13":1.65,"p14":1.51,"p15":1.36,"p16":1.21,"p17":1.07,"p18":0.94,"p19":0.83,"p20":0.76,"q1":2.73,"q2":2.72,"q3":2.69,"q4":2.65,"q5":2.59,"q6":2.52,"q7":2.44,"q8":2.35,"q9":2.24,"q10":2.13,"q11":2,"q12":1.87,"q13":1.73,"q14":1.58,"q15":1.43,"q16":1.28,"q17":1.14,"q18":1,"q19":0.88,"q20":0.79,"q21":0.74,"n1":-2.73,"n2":-2.7,"n3":-2.67,"n4":-2.62,"n5":-2.56,"n6":-2.48,"n7":-2.39,"n8":-2.29,"n9":-2.18,"n10":-2.06,"n11":-1.93,"n12":-1.8,"n13":-1.65,"n14":-1.51,"n15":-1.36,"n16":-1.21,"n17":-1.07,"n18":-0.94,"n19":-0.83,"n20":-0.76,"r1":-2.73,"r2":-2.72,"r3":-2.69,"r4":-2.65,"r5":-2.59,"r6":-2.52,"r7":-2.44,"r8":-2.35,"r9":-2.24,"r10":-2.13,"r11":-2,"r12":-1.87,"r13":-1.73,"r14":-1.58,"r15":-1.43,"r16":-1.28,"r17":-1.14,"r18":-1,"r19":-0.88,"r20":-0.79,"r21":-0.74},
{"x":-0.25,"p1":2.84,"p2":2.82,"p3":2.78,"p4":2.73,"p5":2.67,"p6":2.59,"p7":2.5,"p8":2.4,"p9":2.29,"p10":2.17,"p11":2.03,"p12":1.9,"p13":1.75,"p14":1.6,"p15":1.45,"p16":1.31,"p17":1.17,"p18":1.04,"p19":0.94,"p20":0.87,"q1":2.85,"q2":2.83,"q3":2.8,"q4":2.76,"q5":2.7,"q6":2.63,"q7":2.55,"q8":2.45,"q9":2.35,"q10":2.23,"q11":2.1,"q12":1.97,"q13":1.82,"q14":1.68,"q15":1.53,"q16":1.38,"q17":1.23,"q18":1.1,"q19":0.99,"q20":0.9,"q21":0.85,"n1":-2.84,"n2":-2.82,"n3":-2.78,"n4":-2.73,"n5":-2.67,"n6":-2.59,"n7":-2.5,"n8":-2.4,"n9":-2.29,"n10":-2.17,"n11":-2.03,"n12":-1.9,"n13":-1.75,"n14":-1.6,"n15":-1.45,"n16":-1.31,"n17":-1.17,"n18":-1.04,"n19":-0.94,"n20":-0.87,"r1":-2.85,"r2":-2.83,"r3":-2.8,"r4":-2.76,"r5":-2.7,"r6":-2.63,"r7":-2.55,"r8":-2.45,"r9":-2.35,"r10":-2.23,"r11":-2.1,"r12":-1.97,"r13":-1.82,"r14":-1.68,"r15":-1.53,"r16":-1.38,"r17":-1.23,"r18":-1.1,"r19":-0.99,"r20":-0.9,"r21":-0.85},
{"x":-0.1667,"p1":2.92,"p2":2.9,"p3":2.87,"p4":2.82,"p5":2.75,"p6":2.67,"p7":2.58,"p8":2.48,"p9":2.36,"p10":2.24,"p11":2.11,"p12":1.97,"p13":1.82,"p14":1.67,"p15":1.52,"p16":1.38,"p17":1.24,"p18":1.12,"p19":1.02,"p20":0.95,"q1":2.93,"q2":2.92,"q3":2.89,"q4":2.84,"q5":2.78,"q6":2.71,"q7":2.63,"q8":2.53,"q9":2.42,"q10":2.3,"q11":2.18,"q12":2.04,"q13":1.9,"q14":1.75,"q15":1.6,"q16":1.45,"q17":1.31,"q18":1.18,"q19":1.07,"q20":0.98,"q21":0.94,"n1":-2.92,"n2":-2.9,"n3":-2.87,"n4":-2.82,"n5":-2.75,"n6":-2.67,"n7":-2.58,"n8":-2.48,"n9":-2.36,"n10":-2.24,"n11":-2.11,"n12":-1.97,"n13":-1.82,"n14":-1.67,"n15":-1.52,"n16":-1.38,"n17":-1.24,"n18":-1.12,"n19":-1.02,"n20":-0.95,"r1":-2.93,"r2":-2.92,"r3":-2.89,"r4":-2.84,"r5":-2.78,"r6":-2.71,"r7":-2.63,"r8":-2.53,"r9":-2.42,"r10":-2.3,"r11":-2.18,"r12":-2.04,"r13":-1.9,"r14":-1.75,"r15":-1.6,"r16":-1.45,"r17":-1.31,"r18":-1.18,"r19":-1.07,"r20":-0.98,"r21":-0.94},
{"x":-0.0833,"p1":2.98,"p2":2.95,"p3":2.92,"p4":2.87,"p5":2.8,"p6":2.72,"p7":2.63,"p8":2.53,"p9":2.41,"p10":2.29,"p11":2.15,"p12":2.01,"p13":1.87,"p14":1.72,"p15":1.57,"p16":1.42,"p17":1.29,"p18":1.17,"p19":1.07,"p20":1.01,"q1":2.98,"q2":2.97,"q3":2.94,"q4":2.89,"q5":2.83,"q6":2.76,"q7":2.68,"q8":2.58,"q9":2.47,"q10":2.35,"q11":2.22,"q12":2.08,"q13":1.94,"q14":1.79,"q15":1.64,"q16":1.49,"q17":1.35,"q18":1.22,"q19":1.11,"q20":1.03,"q21":0.99,"n1":-2.98,"n2":-2.95,"n3":-2.92,"n4":-2.87,"n5":-2.8,"n6":-2.72,"n7":-2.63,"n8":-2.53,"n9":-2.41,"n10":-2.29,"n11":-2.15,"n12":-2.01,"n13":-1.87,"n14":-1.72,"n15":-1.57,"n16":-1.42,"n17":-1.29,"n18":-1.17,"n19":-1.07,"n20":-1.01,"r1":-2.98,"r2":-2.97,"r3":-2.94,"r4":-2.89,"r5":-2.83,"r6":-2.76,"r7":-2.68,"r8":-2.58,"r9":-2.47,"r10":-2.35,"r11":-2.22,"r12":-2.08,"r13":-1.94,"r14":-1.79,"r15":-1.64,"r16":-1.49,"r17":-1.35,"r18":-1.22,"r19":-1.11,"r20":-1.03,"r21":-0.99},
{"x":0,"p1":2.99,"p2":2.97,"p3":2.93,"p4":2.88,"p5":2.82,"p6":2.74,"p7":2.65,"p8":2.54,"p9":2.43,"p10":2.3,"p11":2.17,"p12":2.03,"p13":1.88,"p14":1.73,"p15":1.58,"p16":1.44,"p17":1.3,"p18":1.18,"p19":1.09,"p20":1.02,"q1":3,"q2":2.98,"q3":2.95,"q4":2.91,"q5":2.85,"q6":2.78,"q7":2.69,"q8":2.6,"q9":2.49,"q10":2.37,"q11":2.24,"q12":2.1,"q13":1.95,"q14":1.81,"q15":1.66,"q16":1.51,"q17":1.37,"q18":1.24,"q19":1.13,"q20":1.05,"q21":1.01,"n1":-2.99,"n2":-2.97,"n3":-2.93,"n4":-2.88,"n5":-2.82,"n6":-2.74,"n7":-2.65,"n8":-2.54,"n9":-2.43,"n10":-2.3,"n11":-2.17,"n12":-2.03,"n13":-1.88,"n14":-1.73,"n15":-1.58,"n16":-1.44,"n17":-1.3,"n18":-1.18,"n19":-1.09,"n20":-1.02,"r1":-3,"r2":-2.98,"r3":-2.95,"r4":-2.91,"r5":-2.85,"r6":-2.78,"r7":-2.69,"r8":-2.6,"r9":-2.49,"r10":-2.37,"r11":-2.24,"r12":-2.1,"r13":-1.95,"r14":-1.81,"r15":-1.66,"r16":-1.51,"r17":-1.37,"r18":-1.24,"r19":-1.13,"r20":-1.05,"r21":-1.01},
{"x":0.0833,"p1":2.98,"p2":2.95,"p3":2.92,"p4":2.87,"p5":2.8,"p6":2.72,"p7":2.63,"p8":2.53,"p9":2.41,"p10":2.29,"p11":2.15,"p12":2.01,"p13":1.87,"p14":1.72,"p15":1.57,"p16":1.42,"p17":1.29,"p18":1.17,"p19":1.07,"p20":1.01,"q1":2.98,"q2":2.97,"q3":2.94,"q4":2.89,"q5":2.83,"q6":2.76,"q7":2.68,"q8":2.58,"q9":2.47,"q10":2.35,"q11":2.22,"q12":2.08,"q13":1.94,"q14":1.79,"q15":1.64,"q16":1.49,"q17":1.35,"q18":1.22,"q19":1.11,"q20":1.03,"q21":0.99,"n1":-2.98,"n2":-2.95,"n3":-2.92,"n4":-2.87,"n5":-2.8,"n6":-2.72,"n7":-2.63,"n8":-2.53,"n9":-2.41,"n10":-2.29,"n11":-2.15,"n12":-2.01,"n13":-1.87,"n14":-1.72,"n15":-1.57,"n16":-1.42,"n17":-1.29,"n18":-1.17,"n19":-1.07,"n20":-1.01,"r1":-2.98,"r2":-2.97,"r3":-2.94,"r4":-2.89,"r5":-2.83,"r6":-2.76,"r7":-2.68,"r8":-2.58,"r9":-2.47,"r10":-2.35,"r11":-2.22,"r12":-2.08,"r13":-1.94,"r14":-1.79,"r15":-1.64,"r16":-1.49,"r17":-1.35,"r18":-1.22,"r19":-1.11,"r20":-1.03,"r21":-0.99},
{"x":0.1667,"p1":2.92,"p2":2.9,"p3":2.87,"p4":2.82,"p5":2.75,"p6":2.67,"p7":2.58,"p8":2.48,"p9":2.36,"p10":2.24,"p11":2.11,"p12":1.97,"p13":1.82,"p14":1.67,"p15":1.52,"p16":1.38,"p17":1.24,"p18":1.12,"p19":1.02,"p20":0.95,"q1":2.93,"q2":2.92,"q3":2.89,"q4":2.84,"q5":2.78,"q6":2.71,"q7":2.63,"q8":2.53,"q9":2.42,"q10":2.3,"q11":2.18,"q12":2.04,"q13":1.9,"q14":1.75,"q15":1.6,"q16":1.45,"q17":1.31,"q18":1.18,"q19":1.07,"q20":0.98,"q21":0.94,"n1":-2.92,"n2":-2.9,"n3":-2.87,"n4":-2.82,"n5":-2.75,"n6":-2.67,"n7":-2.58,"n8":-2.48,"n9":-2.36,"n10":-2.24,"n11":-2.11,"n12":-1.97,"n13":-1.82,"n14":-1.67,"n15":-1.52,"n16":-1.38,"n17":-1.24,"n18":-1.12,"n19":-1.02,"n20":-0.95,"r1":-2.93,"r2":-2.92,"r3":-2.89,"r4":-2.84,"r5":-2.78,"r6":-2.71,"r7":-2.63,"r8":-2.53,"r9":-2.42,"r10":-2.3,"r11":-2.18,"r12":-2.04,"r13":-1.9,"r14":-1.75,"r15":-1.6,"r16":-1.45,"r17":-1.31,"r18":-1.18,"r19":-1.07,"r20":-0.98,"r21":-0.94},
{"x":0.25,"p1":2.84,"p2":2.82,"p3":2.78,"p4":2.73,"p5":2.67,"p6":2.59,"p7":2.5,"p8":2.4,"p9":2.29,"p10":2.17,"p11":2.03,"p12":1.9,"p13":1.75,"p14":1.6,"p15":1.45,"p16":1.31,"p17":1.17,"p18":1.04,"p19":0.94,"p20":0.87,"q1":2.85,"q2":2.83,"q3":2.8,"q4":2.76,"q5":2.7,"q6":2.63,"q7":2.55,"q8":2.45,"q9":2.35,"q10":2.23,"q11":2.1,"q12":1.97,"q13":1.82,"q14":1.68,"q15":1.53,"q16":1.38,"q17":1.23,"q18":1.1,"q19":0.99,"q20":0.9,"q21":0.85,"n1":-2.84,"n2":-2.82,"n3":-2.78,"n4":-2.73,"n5":-2.67,"n6":-2.59,"n7":-2.5,"n8":-2.4,"n9":-2.29,"n10":-2.17,"n11":-2.03,"n12":-1.9,"n13":-1.75,"n14":-1.6,"n15":-1.45,"n16":-1.31,"n17":-1.17,"n18":-1.04,"n19":-0.94,"n20":-0.87,"r1":-2.85,"r2":-2.83,"r3":-2.8,"r4":-2.76,"r5":-2.7,"r6":-2.63,"r7":-2.55,"r8":-2.45,"r9":-2.35,"r10":-2.23,"r11":-2.1,"r12":-1.97,"r13":-1.82,"r14":-1.68,"r15":-1.53,"r16":-1.38,"r17":-1.23,"r18":-1.1,"r19":-0.99,"r20":-0.9,"r21":-0.85},
{"x":0.3333,"p1":2.73,"p2":2.7,"p3":2.67,"p4":2.62,"p5":2.56,"p6":2.48,"p7":2.39,"p8":2.29,"p9":2.18,"p10":2.06,"p11":1.93,"p12":1.8,"p13":1.65,"p14":1.51,"p15":1.36,"p16":1.21,"p17":1.07,"p18":0.94,"p19":0.83,"p20":0.76,"q1":2.73,"q2":2.72,"q3":2.69,"q4":2.65,"q5":2.59,"q6":2.52,"q7":2.44,"q8":2.35,"q9":2.24,"q10":2.13,"q11":2,"q12":1.87,"q13":1.73,"q14":1.58,"q15":1.43,"q16":1.28,"q17":1.14,"q18":1,"q19":0.88,"q20":0.79,"q21":0.74,"n1":-2.73,"n2":-2.7,"n3":-2.67,"n4":-2.62,"n5":-2.56,"n6":-2.48,"n7":-2.39,"n8":-2.29,"n9":-2.18,"n10":-2.06,"n11":-1.93,"n12":-1.8,"n13":-1.65,"n14":-1.51,"n15":-1.36,"n16":-1.21,"n17":-1.07,"n18":-0.94,"n19":-0.83,"n20":-0.76,"r1":-2.73,"r2":-2.72,"r3":-2.69,"r4":-2.65,"r5":-2.59,"r6":-2.52,"r7":-2.44,"r8":-2.35,"r9":-2.24,"r10":-2.13,"r11":-2,"r12":-1.87,"r13":-1.73,"r14":-1.58,"r15":-1.43,"r16":-1.28,"r17":-1.14,"r18":-1,"r19":-0.88,"r20":-0.79,"r21":-0.74},
{"x":0.4167,"p1":2.58,"p2":2.56,"p3":2.53,"p4":2.48,"p5":2.42,"p6":2.34,"p7":2.26,"p8":2.16,"p9":2.06,"p10":1.94,"p11":1.81,"p12":1.68,"p13":1.54,"p14":1.39,"p15":1.24,"p16":1.09,"p17":0.95,"p18":0.81,"p19":0.7,"p20":0.62,"q1":2.59,"q2":2.57,"q3":2.54,"q4":2.5,"q5":2.45,"q6":2.38,"q7":2.3,"q8":2.21,"q9":2.11,"q10":2,"q11":1.88,"q12":1.74,"q13":1.61,"q14":1.46,"q15":1.32,"q16":1.17,"q17":1.02,"q18":0.88,"q19":0.75,"q20":0.65,"q21":0.59,"n1":-2.58,"n2":-2.56,"n3":-2.53,"n4":-2.48,"n5":-2.42,"n6":-2.34,"n7":-2.26,"n8":-2.16,"n9":-2.06,"n10":-1.94,"n11":-1.81,"n12":-1.68,"n13":-1.54,"n14":-1.39,"n15":-1.24,"n16":-1.09,"n17":-0.95,"n18":-0.81,"n19":-0.7,"n20":-0.62,"r1":-2.59,"r2":-2.57,"r3":-2.54,"r4":-2.5,"r5":-2.45,"r6":-2.38,"r7":-2.3,"r8":-2.21,"r9":-2.11,"r10":-2,"r11":-1.88,"r12":-1.74,"r13":-1.61,"r14":-1.46,"r15":-1.32,"r16":-1.17,"r17":-1.02,"r18":-0.88,"r19":-0.75,"r20":-0.65,"r21":-0.59},
{"x":0.5,"p1":2.41,"p2":2.39,"p3":2.36,"p4":2.31,"p5":2.25,"p6":2.18,"p7":2.1,"p8":2.01,"p9":1.91,"p10":1.79,"p11":1.67,"p12":1.54,"p13":1.4,"p14":1.26,"p15":1.11,"p16":0.96,"p17":0.81,"p18":0.67,"p19":0.55,"p20":0.45,"q1":2.41,"q2":2.4,"q3":2.37,"q4":2.33,"q5":2.28,"q6":2.22,"q7":2.14,"q8":2.06,"q9":1.96,"q10":1.85,"q11":1.73,"q12":1.61,"q13":1.47,"q14":1.33,"q15":1.19,"q16":1.04,"q17":0.89,"q18":0.74,"q19":0.61,"q20":0.49,"q21":0.42,"n1":-2.41,"n2":-2.39,"n3":-2.36,"n4":-2.31,"n5":-2.25,"n6":-2.18,"n7":-2.1,"n8":-2.01,"n9":-1.91,"n10":-1.79,"n11":-1.67,"n12":-1.54,"n13":-1.4,"n14":-1.26,"n15":-1.11,"n16":-0.96,"n17":-0.81,"n18":-0.67,"n19":-0.55,"n20":-0.45,"r1":-2.41,"r2":-2.4,"r3":-2.37,"r4":-2.33,"r5":-2.28,"r6":-2.22,"r7":-2.14,"r8":-2.06,"r9":-1.96,"r10":-1.85,"r11":-1.73,"r12":-1.61,"r13":-1.47,"r14":-1.33,"r15":-1.19,"r16":-1.04,"r17":-0.89,"r18":-0.74,"r19":-0.61,"r20":-0.49,"r21":-0.42},
{"x":0.5833,"p1":2.21,"p2":2.19,"p3":2.16,"p4":2.12,"p5":2.07,"p6":2,"p7":1.92,"p8":1.84,"p9":1.74,"p10":1.63,"p11":1.52,"p12":1.39,"p13":1.26,"p14":1.12,"p15":0.98,"p16":0.84,"p17":0.69,"p18":0.54,"p19":0.39,"p20":0.27,"q1":2.22,"q2":2.2,"q3":2.18,"q4":2.14,"q5":2.09,"q6":2.03,"q7":1.96,"q8":1.88,"q9":1.79,"q10":1.69,"q11":1.58,"q12":1.46,"q13":1.33,"q14":1.19,"q15":1.05,"q16":0.91,"q17":0.76,"q18":0.61,"q19":0.46,"q20":0.33,"q21":0.23,"n1":-2.21,"n2":-2.19,"n3":-2.16,"n4":-2.12,"n5":-2.07,"n6":-2,"n7":-1.92,"n8":-1.84,"n9":-1.74,"n10":-1.63,"n11":-1.52,"n12":-1.39,"n13":-1.26,"n14":-1.12,"n15":-0.98,"n16":-0.84,"n17":-0.69,"n18":-0.54,"n19":-0.39,"n20":-0.27,"r1":-2.22,"r2":-2.2,"r3":-2.18,"r4":-2.14,"r5":-2.09,"r6":-2.03,"r7":-1.96,"r8":-1.88,"r9":-1.79,"r10":-1.69,"r11":-1.58,"r12":-1.46,"r13":-1.33,"r14":-1.19,"r15":-1.05,"r16":-0.91,"r17":-0.76,"r18":-0.61,"r19":-0.46,"r20":-0.33,"r21":-0.23},
{"x":0.6667,"p1":1.99,"p2":1.98,"p3":1.95,"p4":1.91,"p5":1.86,"p6":1.8,"p7":1.73,"p8":1.65,"p9":1.56,"p10":1.47,"p11":1.36,"p12":1.25,"p13":1.13,"p14":1,"p15":0.87,"p16":0.73,"p17":0.59,"p18":0.45,"p19":0.3,"p20":0.15,"q1":2,"q2":1.99,"q3":1.97,"q4":1.93,"q5":1.89,"q6":1.83,"q7":1.77,"q8":1.69,"q9":1.61,"q10":1.52,"q11":1.41,"q12":1.3,"q13":1.19,"q14":1.06,"q15":0.93,"q16":0.8,"q17":0.66,"q18":0.52,"q19":0.37,"q20":0.22,"q21":0.07,"n1":-1.99,"n2":-1.98,"n3":-1.95,"n4":-1.91,"n5":-1.86,"n6":-1.8,"n7":-1.73,"n8":-1.65,"n9":-1.56,"n10":-1.47,"n11":-1.36,"n12":-1.25,"n13":-1.13,"n14":-1,"n15":-0.87,"n16":-0.73,"n17":-0.59,"n18":-0.45,"n19":-0.3,"n20":-0.15,"r1":-2,"r2":-1.99,"r3":-1.97,"r4":-1.93,"r5":-1.89,"r6":-1.83,"r7":-1.77,"r8":-1.69,"r9":-1.61,"r10":-1.52,"r11":-1.41,"r12":-1.3,"r13":-1.19,"r14":-1.06,"r15":-0.93,"r16":-0.8,"r17":-0.66,"r18":-0.52,"r19":-0.37,"r20":-0.22,"r21":-0.07},
{"x":0.75,"p1":1.76,"p2":1.75,"p3":1.72,"p4":1.69,"p5":1.65,"p6":1.59,"p7":1.53,"p8":1.46,"p9":1.39,"p10":1.3,"p11":1.21,"p12":1.12,"p13":1.01,"p14":0.91,"p15":0.79,"p16":0.68,"p17":0.57,"p18":0.45,"p19":0.35,"p20":0.27,"q1":1.76,"q2":1.75,"q3":1.74,"q4":1.71,"q5":1.67,"q6":1.62,"q7":1.56,"q8":1.5,"q9":1.43,"q10":1.35,"q11":1.26,"q12":1.17,"q13":1.07,"q14":0.96,"q15":0.85,"q16":0.74,"q17":0.62,"q18":0.51,"q19":0.4,"q20":0.31,"q21":0.24,"n1":-1.76,"n2":-1.75,"n3":-1.72,"n4":-1.69,"n5":-1.65,"n6":-1.59,"n7":-1.53,"n8":-1.46,"n9":-1.39,"n10":-1.3,"n11":-1.21,"n12":-1.12,"n13":-1.01,"n14":-0.91,"n15":-0.79,"n16":-0.68,"n17":-0.57,"n18":-0.45,"n19":-0.35,"n20":-0.27,"r1":-1.76,"r2":-1.75,"r3":-1.74,"r4":-1.71,"r5":-1.67,"r6":-1.62,"r7":-1.56,"r8":-1.5,"r9":-1.43,"r10":-1.35,"r11":-1.26,"r12":-1.17,"r13":-1.07,"r14":-0.96,"r15":-0.85,"r16":-0.74,"r17":-0.62,"r18":-0.51,"r19":-0.4,"r20":-0.31,"r21":-0.24},
{"x":0.8333,"p1":1.51,"p2":1.5,"p3":1.48,"p4":1.46,"p5":1.42,"p6":1.38,"p7":1.34,"p8":1.28,"p9":1.22,"p10":1.16,"p11":1.09,"p12":1.02,"p13":0.94,"p14":0.87,"p15":0.79,"p16":0.71,"p17":0.64,"p18":0.58,"p19":0.53,"p20":0.49,"q1":1.52,"q2":1.51,"q3":1.49,"q4":1.47,"q5":1.44,"q6":1.4,"q7":1.36,"q8":1.31,"q9":1.25,"q10":1.19,"q11":1.13,"q12":1.06,"q13":0.98,"q14":0.9,"q15":0.83,"q16":0.75,"q17":0.68,"q18":0.61,"q19":0.55,"q20":0.51,"q21":0.49,"n1":-1.51,"n2":-1.5,"n3":-1.48,"n4":-1.46,"n5":-1.42,"n6":-1.38,"n7":-1.34,"n8":-1.28,"n9":-1.22,"n10":-1.16,"n11":-1.09,"n12":-1.02,"n13":-0.94,"n14":-0.87,"n15":-0.79,"n16":-0.71,"n17":-0.64,"n18":-0.58,"n19":-0.53,"n20":-0.49,"r1":-1.52,"r2":-1.51,"r3":-1.49,"r4":-1.47,"r5":-1.44,"r6":-1.4,"r7":-1.36,"r8":-1.31,"r9":-1.25,"r10":-1.19,"r11":-1.13,"r12":-1.06,"r13":-0.98,"r14":-0.9,"r15":-0.83,"r16":-0.75,"r17":-0.68,"r18":-0.61,"r19":-0.55,"r20":-0.51,"r21":-0.49},
{"x":0.9167,"p1":1.26,"p2":1.25,"p3":1.24,"p4":1.22,"p5":1.2,"p6":1.18,"p7":1.15,"p8":1.12,"p9":1.09,"p10":1.05,"p11":1.01,"p12":0.98,"p13":0.94,"p14":0.9,"p15":0.86,"p16":0.83,"p17":0.8,"p18":0.77,"p19":0.75,"p20":0.74,"q1":1.26,"q2":1.26,"q3":1.25,"q4":1.23,"q5":1.22,"q6":1.19,"q7":1.17,"q8":1.14,"q9":1.11,"q10":1.07,"q11":1.03,"q12":1,"q13":0.96,"q14":0.92,"q15":0.88,"q16":0.84,"q17":0.81,"q18":0.78,"q19":0.76,"q20":0.75,"q21":0.74,"n1":-1.26,"n2":-1.25,"n3":-1.24,"n4":-1.22,"n5":-1.2,"n6":-1.18,"n7":-1.15,"n8":-1.12,"n9":-1.09,"n10":-1.05,"n11":-1.01,"n12":-0.98,"n13":-0.94,"n14":-0.9,"n15":-0.86,"n16":-0.83,"n17":-0.8,"n18":-0.77,"n19":-0.75,"n20":-0.74,"r1":-1.26,"r2":-1.26,"r3":-1.25,"r4":-1.23,"r5":-1.22,"r6":-1.19,"r7":-1.17,"r8":-1.14,"r9":-1.11,"r10":-1.07,"r11":-1.03,"r12":-1,"r13":-0.96,"r14":-0.92,"r15":-0.88,"r16":-0.84,"r17":-0.81,"r18":-0.78,"r19":-0.76,"r20":-0.75,"r21":-0.74},
{"x":1,"p1":1,"p2":1,"p3":1,"p4":1,"p5":1,"p6":1,"p7":1,"p8":1,"p9":1,"p10":1,"p11":1,"p12":1,"p13":1,"p14":1,"p15":1,"p16":1,"p17":1,"p18":1,"p19":1,"p20":1,"q1":1,"q2":1,"q3":1,"q4":1,"q5":1,"q6":1,"q7":1,"q8":1,"q9":1,"q10":1,"q11":1,"q12":1,"q13":1,"q14":1,"q15":1,"q16":1,"q17":1,"q18":1,"q19":1,"q20":1,"q21":1,"n1":-1,"n2":-1,"n3":-1,"n4":-1,"n5":-1,"n6":-1,"n7":-1,"n8":-1,"n9":-1,"n10":-1,"n11":-1,"n12":-1,"n13":-1,"n14":-1,"n15":-1,"n16":-1,"n17":-1,"n18":-1,"n19":-1,"n20":-1,"r1":-1,"r2":-1,"r3":-1,"r4":-1,"r5":-1,"r6":-1,"r7":-1,"r8":-1,"r9":-1,"r10":-1,"r11":-1,"r12":-1,"r13":-1,"r14":-1,"r15":-1,"r16":-1,"r17":-1,"r18":-1,"r19":-1,"r20":-1,"r21":-1}
],
"flatB":[{"seg":"a","x":-1,"y":0},{"seg":"a","x":1,"y":0}],
"flatC":[{"seg":"a","x":-0.6667,"y":0},{"seg":"a","x":0.6667,"y":0}],
"flatD":[{"seg":"l","x":-1,"y":0},{"seg":"l","x":-0.6667,"y":0},{"seg":"r","x":0.6667,"y":0},{"seg":"r","x":1,"y":0}],
"fracB":[{"x":-1,"num":"π","den":"3a"},{"x":1,"num":"π","den":"3a"}],
"fracD":[{"x":-1,"num":"π","den":"√3a"},{"x":1,"num":"π","den":"√3a"}],
"midB":[{"x":0,"zero":"0","k":"k","sub":"y"}],
"midD":[{"x":0,"zero":"0","k":"k","sub":"x"}],
"neg":[{"x":-1,"s":"−"}]
},
"concat":[
{
 "width":232,"height":171,
 "title":{"text":"(a) armchair","offset":8},
 "layer":[
  {"data":{"name":"arm"},"transform":[{"fold":["p1","p2","p3","p4","p5","p6","p7","p8","p9","p10","p11","p12","p13","p14","p15","p16","p17","p18","p19","p20","q1","q2","q3","q4","q5","q6","q7","q8","q9","q10","q11","q12","q13","q14","q15","q16","q17","q18","q19","q20","q21"],"as":["band","E"]}],
   "mark":{"type":"line"},
   "encoding":{
    "x":{"field":"x","type":"quantitative","scale":{"domain":[-1,1],"nice":false,"zero":false},"axis":{"orient":"bottom","values":[0],"grid":true,"labels":false,"tickSize":-6,"title":null,"zindex":1}},
    "y":{"field":"E","type":"quantitative","scale":{"domain":[-3,3],"nice":false,"zero":false},"axis":{"orient":"left","values":[-3,-2,-1,0,1,2,3],"tickSize":-6,"labelPadding":20,"title":"E(𝐤‖) / t","titlePadding":12}},
    "detail":{"field":"band"}}},
  {"data":{"name":"arm"},"transform":[{"fold":["n1","n2","n3","n4","n5","n6","n7","n8","n9","n10","n11","n12","n13","n14","n15","n16","n17","n18","n19","n20","r1","r2","r3","r4","r5","r6","r7","r8","r9","r10","r11","r12","r13","r14","r15","r16","r17","r18","r19","r20","r21"],"as":["band","E"]}],
   "mark":{"type":"line"},
   "encoding":{
    "x":{"field":"x","type":"quantitative","axis":{"orient":"top","values":[0],"labels":false,"tickSize":-6,"title":null}},
    "y":{"field":"E","type":"quantitative","axis":{"orient":"right","values":[-3,-2,-1,0,1,2,3],"labels":false,"tickSize":-6,"title":null}},
    "detail":{"field":"band"}}}
 ],
 "resolve":{"axis":{"x":"independent","y":"independent"}}
},
{
 "width":231,"height":171,
 "title":{"text":"(c) bearded","offset":14},
 "layer":[
  {"data":{"name":"zz"},"transform":[{"fold":["p1","p2","p3","p4","p5","p6","p7","p8","p9","p10","p11","p12","p13","p14","p15","p16","p17","p18","p19","p20","q1","q2","q3","q4","q5","q6","q7","q8","q9","q10","q11","q12","q13","q14","q15","q16","q17","q18","q19","q20","q21"],"as":["band","E"]}],
   "mark":{"type":"line"},
   "encoding":{
    "x":{"field":"x","type":"quantitative","scale":{"domain":[-1,1],"nice":false,"zero":false},"axis":{"orient":"bottom","values":[-0.6667,-0.3333,0,0.3333,0.6667],"grid":true,"labels":false,"tickSize":-6,"title":null,"zindex":1}},
    "y":{"field":"E","type":"quantitative","scale":{"domain":[-3,3],"nice":false,"zero":false},"axis":{"orient":"left","values":[-3,-2,-1,0,1,2,3],"labels":false,"tickSize":-6,"title":null}},
    "detail":{"field":"band"}}},
  {"data":{"name":"zz"},"transform":[{"fold":["n1","n2","n3","n4","n5","n6","n7","n8","n9","n10","n11","n12","n13","n14","n15","n16","n17","n18","n19","n20","r1","r2","r3","r4","r5","r6","r7","r8","r9","r10","r11","r12","r13","r14","r15","r16","r17","r18","r19","r20","r21"],"as":["band","E"]}],
   "mark":{"type":"line"},
   "encoding":{
    "x":{"field":"x","type":"quantitative","axis":{"orient":"top","values":[-0.6667,-0.3333,0,0.3333,0.6667],"labels":false,"tickSize":-6,"title":null}},
    "y":{"field":"E","type":"quantitative","axis":{"orient":"right","values":[-3,-2,-1,0,1,2,3],"labels":false,"tickSize":-6,"title":null}},
    "detail":{"field":"band"}}},
  {"data":{"name":"flatC"},"mark":{"type":"line","color":"#e5501e","strokeWidth":2,"interpolate":"linear"},
   "encoding":{"x":{"field":"x","type":"quantitative","axis":null},"y":{"field":"y","type":"quantitative","axis":null},"detail":{"field":"seg"}}}
 ],
 "resolve":{"axis":{"x":"independent","y":"independent"}}
},
{
 "width":232,"height":171,
 "title":{"text":"(b) twig","offset":8},
 "layer":[
  {"data":{"name":"arm"},"transform":[{"fold":["p1","p2","p3","p4","p5","p6","p7","p8","p9","p10","p11","p12","p13","p14","p15","p16","p17","p18","p19","p20","q1","q2","q3","q4","q5","q6","q7","q8","q9","q10","q11","q12","q13","q14","q15","q16","q17","q18","q19","q20","q21"],"as":["band","E"]}],
   "mark":{"type":"line"},
   "encoding":{
    "x":{"field":"x","type":"quantitative","scale":{"domain":[-1,1],"nice":false,"zero":false},"axis":{"orient":"bottom","values":[0],"grid":true,"labels":false,"tickSize":-6,"title":null,"zindex":1}},
    "y":{"field":"E","type":"quantitative","scale":{"domain":[-3,3],"nice":false,"zero":false},"axis":{"orient":"left","values":[-3,-2,-1,0,1,2,3],"tickSize":-6,"labelPadding":20,"title":"E(𝐤‖) / t","titlePadding":12}},
    "detail":{"field":"band"}}},
  {"data":{"name":"arm"},"transform":[{"fold":["n1","n2","n3","n4","n5","n6","n7","n8","n9","n10","n11","n12","n13","n14","n15","n16","n17","n18","n19","n20","r1","r2","r3","r4","r5","r6","r7","r8","r9","r10","r11","r12","r13","r14","r15","r16","r17","r18","r19","r20","r21"],"as":["band","E"]}],
   "mark":{"type":"line"},
   "encoding":{
    "x":{"field":"x","type":"quantitative","axis":{"orient":"top","values":[0],"labels":false,"tickSize":-6,"title":null}},
    "y":{"field":"E","type":"quantitative","axis":{"orient":"right","values":[-3,-2,-1,0,1,2,3],"labels":false,"tickSize":-6,"title":null}},
    "detail":{"field":"band"}}},
  {"data":{"name":"flatB"},"mark":{"type":"line","color":"#e5501e","strokeWidth":2,"interpolate":"linear"},
   "encoding":{"x":{"field":"x","type":"quantitative","axis":null},"y":{"field":"y","type":"quantitative","axis":null},"detail":{"field":"seg"}}},
  {"data":{"name":"fracB"},"mark":{"type":"text","baseline":"alphabetic","dy":31},
   "encoding":{"x":{"field":"x","type":"quantitative","axis":null},"y":{"datum":-3,"axis":null},"text":{"field":"num"}}},
  {"data":{"name":"fracB"},"mark":{"type":"text","baseline":"alphabetic","dy":54},
   "encoding":{"x":{"field":"x","type":"quantitative","axis":null},"y":{"datum":-3,"axis":null},"text":{"field":"den"}}},
  {"data":{"name":"fracB"},"mark":{"type":"rule","color":"black","strokeWidth":1.3,"xOffset":-11,"x2Offset":11,"yOffset":35,"y2Offset":35},
   "encoding":{"x":{"field":"x","type":"quantitative","axis":null},"x2":{"field":"x"},"y":{"datum":-3,"axis":null},"y2":{"datum":-3}}},
  {"data":{"name":"neg"},"mark":{"type":"text","baseline":"alphabetic","dx":-22,"dy":40},
   "encoding":{"x":{"field":"x","type":"quantitative","axis":null},"y":{"datum":-3,"axis":null},"text":{"field":"s"}}},
  {"data":{"name":"midB"},"mark":{"type":"text","baseline":"alphabetic","dy":31},
   "encoding":{"x":{"field":"x","type":"quantitative","axis":null},"y":{"datum":-3,"axis":null},"text":{"field":"zero"}}},
  {"data":{"name":"midB"},"mark":{"type":"text","baseline":"alphabetic","dx":-4,"dy":57},
   "encoding":{"x":{"field":"x","type":"quantitative","axis":null},"y":{"datum":-3,"axis":null},"text":{"field":"k"}}},
  {"data":{"name":"midB"},"mark":{"type":"text","baseline":"alphabetic","fontSize":14,"dx":6,"dy":62},
   "encoding":{"x":{"field":"x","type":"quantitative","axis":null},"y":{"datum":-3,"axis":null},"text":{"field":"sub"}}}
 ],
 "resolve":{"axis":{"x":"independent","y":"independent"}}
},
{
 "width":231,"height":171,
 "title":{"text":"(d) zigzag","offset":14},
 "layer":[
  {"data":{"name":"zz"},"transform":[{"fold":["p1","p2","p3","p4","p5","p6","p7","p8","p9","p10","p11","p12","p13","p14","p15","p16","p17","p18","p19","p20","q1","q2","q3","q4","q5","q6","q7","q8","q9","q10","q11","q12","q13","q14","q15","q16","q17","q18","q19","q20","q21"],"as":["band","E"]}],
   "mark":{"type":"line"},
   "encoding":{
    "x":{"field":"x","type":"quantitative","scale":{"domain":[-1,1],"nice":false,"zero":false},"axis":{"orient":"bottom","values":[-0.6667,-0.3333,0,0.3333,0.6667],"grid":true,"labels":false,"tickSize":-6,"title":null,"zindex":1}},
    "y":{"field":"E","type":"quantitative","scale":{"domain":[-3,3],"nice":false,"zero":false},"axis":{"orient":"left","values":[-3,-2,-1,0,1,2,3],"labels":false,"tickSize":-6,"title":null}},
    "detail":{"field":"band"}}},
  {"data":{"name":"zz"},"transform":[{"fold":["n1","n2","n3","n4","n5","n6","n7","n8","n9","n10","n11","n12","n13","n14","n15","n16","n17","n18","n19","n20","r1","r2","r3","r4","r5","r6","r7","r8","r9","r10","r11","r12","r13","r14","r15","r16","r17","r18","r19","r20","r21"],"as":["band","E"]}],
   "mark":{"type":"line"},
   "encoding":{
    "x":{"field":"x","type":"quantitative","axis":{"orient":"top","values":[-0.6667,-0.3333,0,0.3333,0.6667],"labels":false,"tickSize":-6,"title":null}},
    "y":{"field":"E","type":"quantitative","axis":{"orient":"right","values":[-3,-2,-1,0,1,2,3],"labels":false,"tickSize":-6,"title":null}},
    "detail":{"field":"band"}}},
  {"data":{"name":"flatD"},"mark":{"type":"line","color":"#e5501e","strokeWidth":2,"interpolate":"linear"},
   "encoding":{"x":{"field":"x","type":"quantitative","axis":null},"y":{"field":"y","type":"quantitative","axis":null},"detail":{"field":"seg"}}},
  {"data":{"name":"fracD"},"mark":{"type":"text","baseline":"alphabetic","dy":31},
   "encoding":{"x":{"field":"x","type":"quantitative","axis":null},"y":{"datum":-3,"axis":null},"text":{"field":"num"}}},
  {"data":{"name":"fracD"},"mark":{"type":"text","baseline":"alphabetic","dy":59},
   "encoding":{"x":{"field":"x","type":"quantitative","axis":null},"y":{"datum":-3,"axis":null},"text":{"field":"den"}}},
  {"data":{"name":"fracD"},"mark":{"type":"rule","color":"black","strokeWidth":1.3,"xOffset":-18,"x2Offset":18,"yOffset":35,"y2Offset":35},
   "encoding":{"x":{"field":"x","type":"quantitative","axis":null},"x2":{"field":"x"},"y":{"datum":-3,"axis":null},"y2":{"datum":-3}}},
  {"data":{"name":"neg"},"mark":{"type":"text","baseline":"alphabetic","dx":-25,"dy":40},
   "encoding":{"x":{"field":"x","type":"quantitative","axis":null},"y":{"datum":-3,"axis":null},"text":{"field":"s"}}},
  {"data":{"name":"midD"},"mark":{"type":"text","baseline":"alphabetic","dy":31},
   "encoding":{"x":{"field":"x","type":"quantitative","axis":null},"y":{"datum":-3,"axis":null},"text":{"field":"zero"}}},
  {"data":{"name":"midD"},"mark":{"type":"text","baseline":"alphabetic","dx":-4,"dy":58},
   "encoding":{"x":{"field":"x","type":"quantitative","axis":null},"y":{"datum":-3,"axis":null},"text":{"field":"k"}}},
  {"data":{"name":"midD"},"mark":{"type":"text","baseline":"alphabetic","fontSize":14,"dx":6,"dy":63},
   "encoding":{"x":{"field":"x","type":"quantitative","axis":null},"y":{"datum":-3,"axis":null},"text":{"field":"sub"}}}
 ],
 "resolve":{"axis":{"x":"independent","y":"independent"}}
}
]
}
